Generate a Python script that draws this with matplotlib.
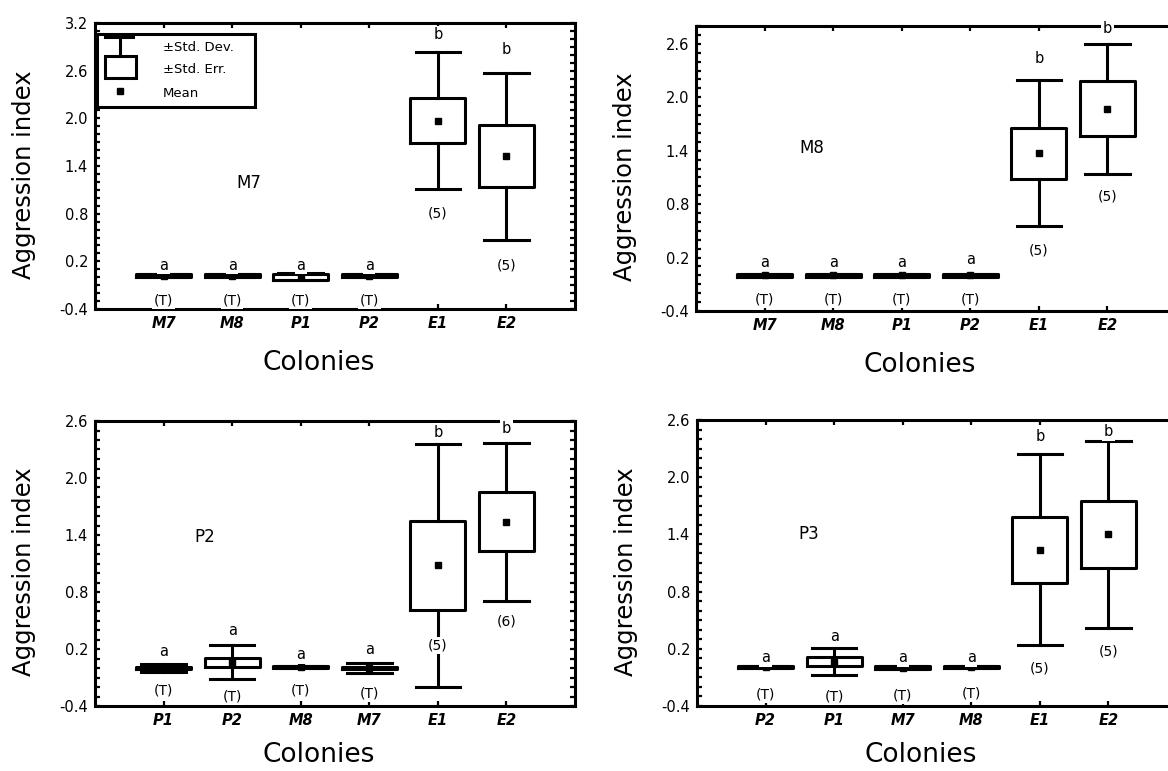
import matplotlib
matplotlib.use('Agg')
import matplotlib.pyplot as plt
from matplotlib.ticker import FixedLocator, MultipleLocator, FormatStrFormatter
from matplotlib.patches import Rectangle
from matplotlib.lines import Line2D

plt.rcParams['font.family'] = ['DejaVu Sans']

# ---------------- data ----------------
# Panel M7
m7_cats = ['M7', 'M8', 'P1', 'P2', 'E1', 'E2']
m7_mean = [0.02, 0.02, 0.005, 0.02, 1.97, 1.52]
m7_se = [0.02, 0.02, 0.04, 0.02, 0.28, 0.39]
m7_sd = [0.02, 0.02, 0.045, 0.02, 0.86, 1.05]
m7_letters = ['a', 'a', 'a', 'a', 'b', 'b']
m7_letter_y = [0.15, 0.15, 0.15, 0.15, 3.05, 2.87]
m7_n = ['(T)', '(T)', '(T)', '(T)', '(5)', '(5)']
m7_n_y = [-0.29, -0.29, -0.29, -0.29, 0.80, 0.15]

# Panel M8
m8_cats = ['M7', 'M8', 'P1', 'P2', 'E1', 'E2']
m8_mean = [0.0, 0.0, 0.0, 0.0, 1.37, 1.87]
m8_se = [0.015, 0.015, 0.015, 0.015, 0.29, 0.31]
m8_sd = [0.015, 0.015, 0.015, 0.015, 0.82, 0.73]
m8_letters = ['a', 'a', 'a', 'a', 'b', 'b']
m8_letter_y = [0.15, 0.15, 0.15, 0.18, 2.43, 2.77]
m8_n = ['(T)', '(T)', '(T)', '(T)', '(5)', '(5)']
m8_n_y = [-0.27, -0.27, -0.27, -0.27, 0.28, 0.89]

# Panel P2
p2_cats = ['P1', 'P2', 'M8', 'M7', 'E1', 'E2']
p2_mean = [0.0, 0.06, 0.01, 0.0, 1.08, 1.54]
p2_se = [0.015, 0.05, 0.01, 0.015, 0.47, 0.31]
p2_sd = [0.047, 0.18, 0.01, 0.05, 1.28, 0.83]
p2_letters = ['a', 'a', 'a', 'a', 'b', 'b']
p2_letter_y = [0.176, 0.396, 0.14, 0.197, 2.48, 2.52]
p2_n = ['(T)', '(T)', '(T)', '(T)', '(5)', '(6)']
p2_n_y = [-0.24, -0.30, -0.24, -0.27, 0.24, 0.49]

# Panel P3
p3_cats = ['P2', 'P1', 'M7', 'M8', 'E1', 'E2']
p3_mean = [0.01, 0.065, 0.0, 0.01, 1.24, 1.40]
p3_se = [0.01, 0.05, 0.015, 0.01, 0.345, 0.35]
p3_sd = [0.01, 0.14, 0.015, 0.01, 1.0, 0.98]
p3_letters = ['a', 'a', 'a', 'a', 'b', 'b']
p3_letter_y = [0.106, 0.33, 0.106, 0.106, 2.43, 2.48]
p3_n = ['(T)', '(T)', '(T)', '(T)', '(5)', '(5)']
p3_n_y = [-0.28, -0.30, -0.29, -0.27, -0.01, 0.176]

titles = ['M7', 'M8', 'P2', 'P3']
title_xy = [(2.24, 1.19), (1.69, 1.43), (1.60, 1.375), (1.63, 1.40)]
ytop = [3.2, 2.8, 2.6, 2.6]
yticks_all = [-0.4, 0.2, 0.8, 1.4, 2.0, 2.6, 3.2]

panels = [
    (m7_cats, m7_mean, m7_se, m7_sd, m7_letters, m7_letter_y, m7_n, m7_n_y),
    (m8_cats, m8_mean, m8_se, m8_sd, m8_letters, m8_letter_y, m8_n, m8_n_y),
    (p2_cats, p2_mean, p2_se, p2_sd, p2_letters, p2_letter_y, p2_n, p2_n_y),
    (p3_cats, p3_mean, p3_se, p3_sd, p3_letters, p3_letter_y, p3_n, p3_n_y),
]

# ---------------- layout ----------------
W, H = 1168, 771
fig = plt.figure(figsize=(W / 100, H / 100), dpi=100)
rects = [
    [95 / W, (H - 309) / H, 480 / W, 286 / H],
    [696 / W, (H - 311) / H, 480 / W, 285 / H],
    [95 / W, (H - 706) / H, 480 / W, 285 / H],
    [697 / W, (H - 706) / H, 480 / W, 286 / H],
]
xlabel_y = [-0.19, -0.19, -0.172, -0.172]

LW = 2.2
txt_bbox = dict(facecolor='white', edgecolor='none', pad=1.2)

axes = []
for i, (cats, mean, se, sd, letters, ly, ns, ny) in enumerate(panels):
    ax = fig.add_axes(rects[i])
    axes.append(ax)
    pos = list(range(1, len(cats) + 1))
    stats = []
    for c, m, s, d in zip(cats, mean, se, sd):
        stats.append(dict(label=c, med=m, mean=m, q1=m - s, q3=m + s,
                          whislo=m - d, whishi=m + d, fliers=[]))
    ax.bxp(stats, positions=pos, widths=0.8, capwidths=0.65,
           showmeans=True, showfliers=False,
           boxprops=dict(color='black', linewidth=LW),
           whiskerprops=dict(color='black', linewidth=LW),
           capprops=dict(color='black', linewidth=LW),
           medianprops=dict(linewidth=0, visible=False),
           meanprops=dict(marker='s', markerfacecolor='black',
                          markeredgecolor='black', markersize=4.3))
    ax.set_xlim(0, 7)
    ax.set_ylim(-0.4, ytop[i])
    ax.set_xticks(pos)
    ax.set_xticklabels(cats, fontsize=10, fontstyle='italic', fontweight='bold')
    yt = [t for t in yticks_all if t <= ytop[i] + 1e-9]
    ax.yaxis.set_major_locator(FixedLocator(yt))
    ax.yaxis.set_major_formatter(FormatStrFormatter('%.1f'))
    ax.yaxis.set_minor_locator(MultipleLocator(0.1))
    ax.tick_params(axis='both', which='both', direction='in', top=True,
                   right=True, length=3.5, width=1.6, labelsize=10.5, pad=5)
    ax.tick_params(axis='x', which='minor', bottom=False, top=False)
    for sp in ax.spines.values():
        sp.set_linewidth(LW)

    for p, t, y in zip(pos, letters, ly):
        ax.text(p, y, t, ha='center', va='center', fontsize=10.5,
                bbox=txt_bbox, zorder=4)
    for p, t, y in zip(pos, ns, ny):
        ax.text(p, y, t, ha='center', va='center', fontsize=10,
                bbox=txt_bbox, zorder=4)
    ax.text(title_xy[i][0], title_xy[i][1], titles[i], ha='center',
            va='center', fontsize=12)

    ax.set_ylabel('Aggression index', fontsize=17.5, va='center')
    ax.yaxis.set_label_coords(-0.148, 0.47)
    ax.set_xlabel('Colonies', fontsize=19, va='center')
    ax.xaxis.set_label_coords(0.465, xlabel_y[i])

# ---------------- legend (panel M7) ----------------
ax = axes[0]
tr = ax.transAxes
ax.add_patch(Rectangle((0.004, 0.706), 0.329, 0.256, transform=tr,
                       facecolor='white', edgecolor='black', linewidth=LW,
                       zorder=5, clip_on=False))
ax.add_line(Line2D([0.021, 0.079], [0.950, 0.950], transform=tr, color='black',
                   linewidth=LW, zorder=6))
ax.add_line(Line2D([0.052, 0.052], [0.950, 0.885], transform=tr, color='black',
                   linewidth=LW, zorder=6))
ax.add_patch(Rectangle((0.021, 0.808), 0.064, 0.077, transform=tr,
                       facecolor='white', edgecolor='black', linewidth=LW,
                       zorder=6))
ax.add_line(Line2D([0.052], [0.762], transform=tr, marker='s', color='black',
                   markersize=4.3, linestyle='none', zorder=6))
for yy, t in zip([0.913, 0.839, 0.752], ['±Std. Dev.', '±Std. Err.', 'Mean']):
    ax.text(0.142, yy, t, transform=tr, ha='left', va='center', fontsize=9.5,
            zorder=7)

fig.savefig('out.png', dpi=100)
